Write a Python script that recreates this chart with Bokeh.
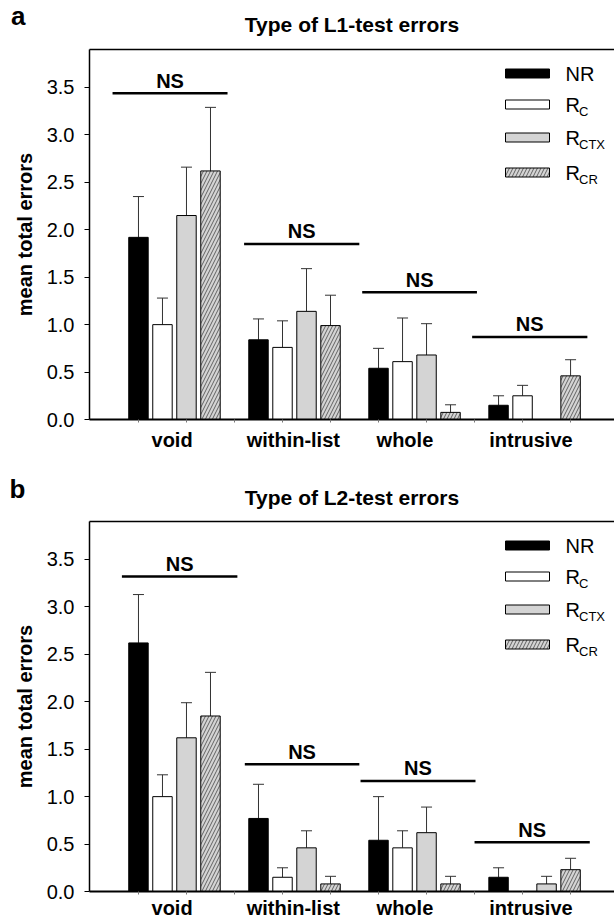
from bokeh.plotting import figure
from bokeh.models import (ColumnDataSource, Whisker, TeeHead, Label, BoxAnnotation, Range1d,
                          FixedTicker, NumeralTickFormatter, LinearAxis, CustomJSTickFormatter)
from bokeh.layouts import column
from bokeh.core.properties import value
from bokeh.embed import file_html
from bokeh.resources import INLINE

# ---------------- data ----------------
categories = ["void", "within-list", "whole", "intrusive"]
groups = ["NR", "R_C", "R_CTX", "R_CR"]
legend_main = ["NR", "R", "R", "R"]
legend_sub = ["", "C", "CTX", "CR"]

# Panel a: L1-test errors (mean, upward SEM)
l1_nr = [1.92, 0.84, 0.54, 0.15]
l1_nr_sem = [0.43, 0.22, 0.21, 0.10]
l1_rc = [1.00, 0.76, 0.61, 0.25]
l1_rc_sem = [0.28, 0.28, 0.46, 0.11]
l1_rctx = [2.15, 1.14, 0.68, 0.00]
l1_rctx_sem = [0.51, 0.45, 0.33, 0.00]
l1_rcr = [2.62, 0.99, 0.075, 0.46]
l1_rcr_sem = [0.67, 0.32, 0.08, 0.17]
l1_ns_level = [3.44, 1.85, 1.34, 0.87]
l1_ns_from = [-1.08, 4.40, 9.32, 13.9]
l1_ns_to = [3.71, 9.20, 14.10, 18.7]

# Panel b: L2-test errors (mean, upward SEM)
l2_nr = [2.62, 0.77, 0.54, 0.15]
l2_nr_sem = [0.51, 0.36, 0.46, 0.10]
l2_rc = [1.00, 0.15, 0.46, 0.00]
l2_rc_sem = [0.23, 0.10, 0.18, 0.00]
l2_rctx = [1.62, 0.46, 0.62, 0.08]
l2_rctx_sem = [0.37, 0.18, 0.27, 0.08]
l2_rcr = [1.85, 0.08, 0.08, 0.23]
l2_rcr_sem = [0.46, 0.08, 0.08, 0.12]
l2_ns_level = [3.32, 1.34, 1.165, 0.52]
l2_ns_from = [-0.69, 4.43, 9.25, 14.0]
l2_ns_to = [4.12, 9.20, 14.04, 18.8]

y_ticks = [0.0, 0.5, 1.0, 1.5, 2.0, 2.5, 3.0, 3.5]

# ---------------- style / layout ----------------
FONT = "Liberation Sans"
FILLS = ["black", "white", "#d4d4d4", "#d4d4d4"]
SLOTS = 5          # bar slots per group (4 bars + gap)
BAR_W = 0.81
LABEL_SHIFT = [-0.1, -0.05, -0.4, -0.15]
LEG_ROWS = [24, 55, 88, 123]   # px below frame top
FRAME_H = 370
FIG_W = 614
LEFT = 89
MAIN_TOP = 9


def header(letter, title, height, cy_letter, cy_title):
    # pixel-like ranges: x = canvas x, y = height - canvas y
    h = figure(width=FIG_W, height=height, x_range=Range1d(LEFT, FIG_W), y_range=Range1d(0, height),
               output_backend="svg", toolbar_location=None, title_location=None,
               min_border_left=LEFT, min_border_right=0, min_border_top=0, min_border_bottom=0,
               x_axis_location=None)
    h.outline_line_color = None
    h.grid.visible = False
    ax = h.yaxis[0]
    ax.ticker = FixedTicker(ticks=[height - cy_letter])
    ax.formatter = CustomJSTickFormatter(args=dict(t=letter), code="return t;")
    ax.axis_line_color = None
    ax.major_tick_line_color = None
    ax.minor_tick_line_color = None
    ax.major_tick_out = 0
    ax.major_tick_in = 0
    ax.minor_tick_out = 0
    ax.minor_tick_in = 0
    ax.major_label_standoff = 64
    ax.major_label_text_font = FONT
    ax.major_label_text_font_style = "bold"
    ax.major_label_text_font_size = "26px"
    ax.major_label_text_color = "black"
    h.add_layout(Label(x=(LEFT + FIG_W) / 2, y=height - cy_title,
                       text=title, text_font=FONT, text_font_style="bold", text_font_size="21px",
                       text_align="center", text_baseline="middle", text_color="black"))
    return h


def panel(means, sems, ns_level, ns_from, ns_to, bottom, label_standoff):
    height = MAIN_TOP + FRAME_H + bottom
    p = figure(width=FIG_W, height=height, x_range=Range1d(-2.04, 19.83), y_range=Range1d(0, 3.9),
               output_backend="svg", toolbar_location=None, title_location=None,
               min_border_left=LEFT, min_border_right=0, min_border_top=MAIN_TOP,
               min_border_bottom=bottom)
    p.outline_line_color = None
    p.grid.visible = False

    for i in range(len(groups)):
        keep = [g for g in range(len(categories)) if means[i][g] > 0]
        src = ColumnDataSource(dict(
            x=[g * SLOTS + i for g in keep],
            top=[means[i][g] for g in keep],
            upper=[means[i][g] + sems[i][g] for g in keep],
        ))
        kw = {}
        if i == 3:
            kw = dict(hatch_pattern="/", hatch_color="#444444", hatch_scale=7, hatch_weight=0.8)
        p.vbar(x="x", top="top", width=BAR_W, source=src, fill_color=FILLS[i],
               line_color="black", line_width=1, **kw)
        p.add_layout(Whisker(base="x", lower="top", upper="upper", source=src,
                             line_color="#333333", line_width=1,
                             upper_head=TeeHead(size=11, line_color="#333333", line_width=1),
                             lower_head=None))

    ns = ColumnDataSource(dict(x0=ns_from, x1=ns_to, y=ns_level,
                               xm=[(a + b) / 2 for a, b in zip(ns_from, ns_to)],
                               t=["NS"] * len(ns_level)))
    p.segment(x0="x0", y0="y", x1="x1", y1="y", source=ns, line_color="black", line_width=2.5)
    p.text(x="xm", y="y", text="t", source=ns, text_align="center", text_baseline="middle",
           y_offset=-12.5, text_font=value(FONT), text_font_style="bold", text_font_size="20px",
           text_color="black")

    # x axis: category names at group centres, small ticks every second bar slot
    xa = p.xaxis[0]
    xa.ticker = FixedTicker(ticks=[g * SLOTS + 1.5 + LABEL_SHIFT[g] for g in range(len(categories))],
                            minor_ticks=list(range(0, 19, 2)))
    xa.formatter = CustomJSTickFormatter(args=dict(names=categories), code="return names[index];")
    xa.axis_line_width = 2
    xa.major_tick_out = 0
    xa.major_tick_in = 0
    xa.minor_tick_out = 3
    xa.minor_tick_in = 0
    xa.minor_tick_line_color = "#777777"
    xa.major_label_standoff = label_standoff
    xa.major_label_text_font = FONT
    xa.major_label_text_font_style = "bold"
    xa.major_label_text_font_size = "20px"
    xa.major_label_text_color = "black"

    ya = p.yaxis[0]
    ya.ticker = FixedTicker(ticks=y_ticks)
    ya.formatter = NumeralTickFormatter(format="0.0")
    ya.major_label_text_font = FONT
    ya.major_label_text_font_size = "20px"
    ya.major_label_text_color = "black"
    ya.major_tick_out = 5
    ya.major_tick_in = 0
    ya.minor_tick_out = 0
    ya.minor_tick_in = 0
    ya.axis_line_width = 1.5
    ya.major_label_standoff = 10
    ya.axis_label = "mean total errors"
    ya.axis_label_text_font = FONT
    ya.axis_label_text_font_style = "bold"
    ya.axis_label_text_font_size = "20px"
    ya.axis_label_text_color = "black"
    ya.axis_label_standoff = 8

    top_ax = LinearAxis(ticker=FixedTicker(ticks=[]), major_label_text_font_size="0px",
                        major_tick_out=0, major_tick_in=0, minor_tick_out=0, minor_tick_in=0,
                        major_label_standoff=0, axis_line_width=1.5)
    p.add_layout(top_ax, "above")

    # legend (drawn inside the frame)
    for i in range(len(groups)):
        cy = MAIN_TOP + LEG_ROWS[i]
        kw = {}
        if i == 3:
            kw = dict(hatch_pattern="/", hatch_color="#444444", hatch_scale=7, hatch_weight=0.8)
        p.add_layout(BoxAnnotation(left=505, right=549, top=cy - 4.5, bottom=cy + 4.5,
                                   left_units="canvas", right_units="canvas",
                                   top_units="canvas", bottom_units="canvas",
                                   fill_color=FILLS[i], fill_alpha=1, line_color="black",
                                   line_alpha=1, line_width=1, **kw))
        p.add_layout(Label(x=565, y=cy, x_units="canvas", y_units="canvas",
                           text=legend_main[i], text_font=FONT, text_font_size="20px",
                           text_baseline="middle", text_color="black"))
        if legend_sub[i]:
            p.add_layout(Label(x=578.5, y=cy + 7, x_units="canvas", y_units="canvas",
                               text=legend_sub[i], text_font=FONT, text_font_size="13px",
                               text_baseline="middle", text_color="black"))
    return p


ha = header("a", "Type of L1-test errors", 40, 15.5, 24)
pa = panel([l1_nr, l1_rc, l1_rctx, l1_rcr], [l1_nr_sem, l1_rc_sem, l1_rctx_sem, l1_rcr_sem],
           l1_ns_level, l1_ns_from, l1_ns_to, bottom=42, label_standoff=6)

hb = header("b", "Type of L2-test errors", 51, 27.5, 36)
pb = panel([l2_nr, l2_rc, l2_rctx, l2_rcr], [l2_nr_sem, l2_rc_sem, l2_rctx_sem, l2_rcr_sem],
           l2_ns_level, l2_ns_from, l2_ns_to, bottom=31, label_standoff=2)

layout = column(ha, pa, hb, pb, spacing=0)
open("out.html", "w").write(file_html(layout, INLINE))
